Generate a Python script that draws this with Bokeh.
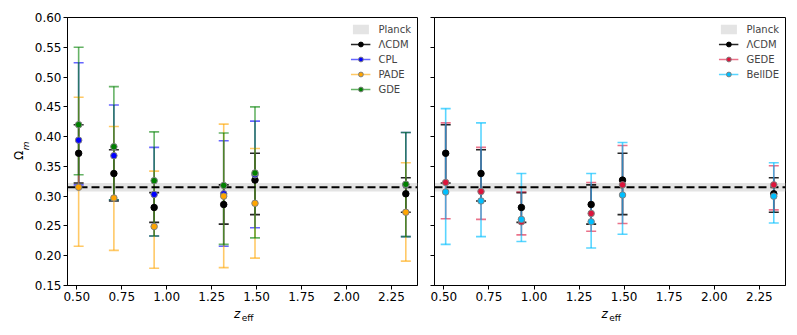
import numpy as np
from bokeh.plotting import figure
from bokeh.layouts import row
from bokeh.models import (ColumnDataSource, FixedTicker, Legend, LegendItem, LinearAxis,
                          Range1d, NumeralTickFormatter, CustomJSTickFormatter)
from bokeh.embed import file_html
from bokeh.resources import INLINE

# ---------------- data ----------------
z_eff = [0.510, 0.706, 0.930, 1.317, 1.491, 2.330]

lcdm = [0.372, 0.338, 0.281, 0.286, 0.327, 0.304]
lcdm_up = [0.048, 0.040, 0.025, 0.033, 0.045, 0.027]
lcdm_dn = [0.050, 0.046, 0.025, 0.033, 0.058, 0.031]

cpl = [0.394, 0.368, 0.303, 0.304, 0.336, 0.319]
cpl_up = [0.130, 0.085, 0.079, 0.089, 0.090, 0.088]
cpl_dn = [0.075, 0.074, 0.070, 0.088, 0.089, 0.087]

pade = [0.315, 0.297, 0.249, 0.300, 0.288, 0.273]
pade_up = [0.151, 0.120, 0.093, 0.121, 0.092, 0.083]
pade_dn = [0.099, 0.088, 0.070, 0.120, 0.092, 0.082]

gde = [0.420, 0.383, 0.326, 0.318, 0.339, 0.320]
gde_up = [0.130, 0.101, 0.082, 0.088, 0.111, 0.087]
gde_dn = [0.084, 0.089, 0.093, 0.099, 0.109, 0.088]

gede = [0.323, 0.308, 0.257, 0.271, 0.319, 0.319]
gede_up = [0.100, 0.074, 0.050, 0.052, 0.066, 0.032]
gede_dn = [0.061, 0.047, 0.022, 0.030, 0.065, 0.042]

bellde = [0.307, 0.292, 0.261, 0.257, 0.302, 0.300]
bellde_up = [0.140, 0.131, 0.077, 0.081, 0.088, 0.056]
bellde_dn = [0.088, 0.060, 0.037, 0.044, 0.066, 0.045]

planck_om = 0.315
planck_err = 0.007

x_ticks = [0.50, 0.75, 1.00, 1.25, 1.50, 1.75, 2.00, 2.25]
y_ticks = [0.15, 0.20, 0.25, 0.30, 0.35, 0.40, 0.45, 0.50, 0.55, 0.60]
X_LO, X_HI = 0.448, 2.395
Y_LO, Y_HI = 0.15, 0.60

FONT = "DejaVu Sans"

# where the pieces of the axis titles sit along their axes
XLAB_Z_AT = 1.392
XLAB_EFF_AT = 1.450
YLAB_OMEGA_AT = 0.376
YLAB_M_AT = 0.392


def text_axis(text, at, font_size, style, standoff, orientation="horizontal"):
    ax = LinearAxis(ticker=FixedTicker(ticks=[at]),
                    formatter=CustomJSTickFormatter(code="return %r" % text))
    ax.axis_line_color = None
    ax.major_tick_line_color = None
    ax.minor_tick_line_color = None
    ax.major_tick_out = 0
    ax.major_tick_in = 0
    ax.major_label_text_font = FONT
    ax.major_label_text_font_size = font_size
    ax.major_label_text_font_style = style
    ax.major_label_text_color = "black"
    ax.major_label_standoff = standoff
    ax.major_label_orientation = orientation
    return ax


def make_fig(width, border_left, border_right, show_ylabels):
    p = figure(width=width, height=327, output_backend="svg", toolbar_location=None,
               x_range=Range1d(X_LO, X_HI), y_range=Range1d(Y_LO, Y_HI),
               min_border_left=border_left, min_border_right=border_right,
               min_border_top=17, min_border_bottom=42)
    p.grid.visible = False
    p.outline_line_color = "black"
    p.outline_line_width = 1
    p.background_fill_color = "white"
    p.border_fill_color = "white"
    for ax in (p.xaxis, p.yaxis):
        ax.axis_line_color = "black"
        ax.major_tick_line_color = "black"
        ax.major_tick_out = 4
        ax.major_tick_in = 0
        ax.minor_tick_line_color = None
        ax.major_label_text_font = FONT
        ax.major_label_text_font_size = "12px"
        ax.major_label_text_color = "black"
        ax.major_label_standoff = 2
    p.xaxis.ticker = FixedTicker(ticks=x_ticks)
    p.yaxis.ticker = FixedTicker(ticks=y_ticks)
    p.xaxis.formatter = NumeralTickFormatter(format="0.00")
    if show_ylabels:
        p.yaxis.formatter = NumeralTickFormatter(format="0.00")
    else:
        p.yaxis.formatter = CustomJSTickFormatter(code="return ''")
        p.yaxis.major_label_standoff = 0
    # x title: z_eff, built from two text pieces
    p.add_layout(text_axis("z", XLAB_Z_AT, "12px", "italic", 3), "below")
    p.add_layout(text_axis("eff", XLAB_EFF_AT, "9px", "normal", -11), "below")
    return p


def add_series(p, vals, up, dn, color, bar_alpha):
    top = [v + u for v, u in zip(vals, up)]
    bot = [v - d for v, d in zip(vals, dn)]
    src = ColumnDataSource(dict(x=z_eff, y=vals, top=top, bot=bot))
    seg = p.segment(x0="x", y0="bot", x1="x", y1="top", source=src,
                    line_color=color, line_alpha=bar_alpha, line_width=1.6)
    p.scatter(x="x", y="top", source=src, marker="dash", size=10,
              line_color=color, line_alpha=bar_alpha, line_width=1.6)
    p.scatter(x="x", y="bot", source=src, marker="dash", size=10,
              line_color=color, line_alpha=bar_alpha, line_width=1.6)
    return src, seg


def add_points(p, src, color, edge):
    return p.scatter(x="x", y="y", source=src, marker="circle", size=6.5,
                     fill_color=color, fill_alpha=1.0, line_color=edge, line_width=1)


def build(p, series):
    band = p.varea(x=[X_LO, X_HI], y1=[planck_om - planck_err] * 2,
                   y2=[planck_om + planck_err] * 2, fill_color="#d9d9d9", fill_alpha=0.7)
    made = []
    for name, vals, up, dn, color, edge, ba in series:
        src, seg = add_series(p, vals, up, dn, color, ba)
        made.append((name, src, seg, color, edge))
    p.line(x=[X_LO, X_HI], y=[planck_om, planck_om], line_color="black",
           line_width=2, line_dash="8 4")
    items = [LegendItem(label="Planck", renderers=[band])]
    for name, src, seg, color, edge in made:
        pts = add_points(p, src, color, edge)
        items.append(LegendItem(label=name, renderers=[seg, pts]))
    leg = Legend(items=items, location="top_right", label_text_font=FONT,
                 label_text_font_size="10px", glyph_width=20, glyph_height=12,
                 spacing=3, padding=4, margin=2, label_standoff=8,
                 border_line_alpha=0, background_fill_alpha=0)
    p.add_layout(leg)


p1 = make_fig(425, 67, 8, True)
build(p1, [
    ("\u039bCDM", lcdm, lcdm_up, lcdm_dn, "black", "black", 0.85),
    ("CPL", cpl, cpl_up, cpl_dn, "blue", "gray", 0.6),
    ("PADE", pade, pade_up, pade_dn, "orange", "gray", 0.6),
    ("GDE", gde, gde_up, gde_dn, "green", "gray", 0.6),
])
# y title: Omega_m, built from two text pieces
p1.add_layout(text_axis("m", YLAB_M_AT, "9px", "italic", 5, np.pi / 2), "left")
p1.add_layout(text_axis("\u03a9", YLAB_OMEGA_AT, "12px", "normal", -6, np.pi / 2), "left")

p2 = make_fig(364, 9, 4, False)
build(p2, [
    ("\u039bCDM", lcdm, lcdm_up, lcdm_dn, "black", "black", 0.85),
    ("GEDE", gede, gede_up, gede_dn, "crimson", "gray", 0.6),
    ("BellDE", bellde, bellde_up, bellde_dn, "deepskyblue", "gray", 0.65),
])

layout = row(p1, p2)
open("out.html", "w").write(file_html(layout, INLINE))
